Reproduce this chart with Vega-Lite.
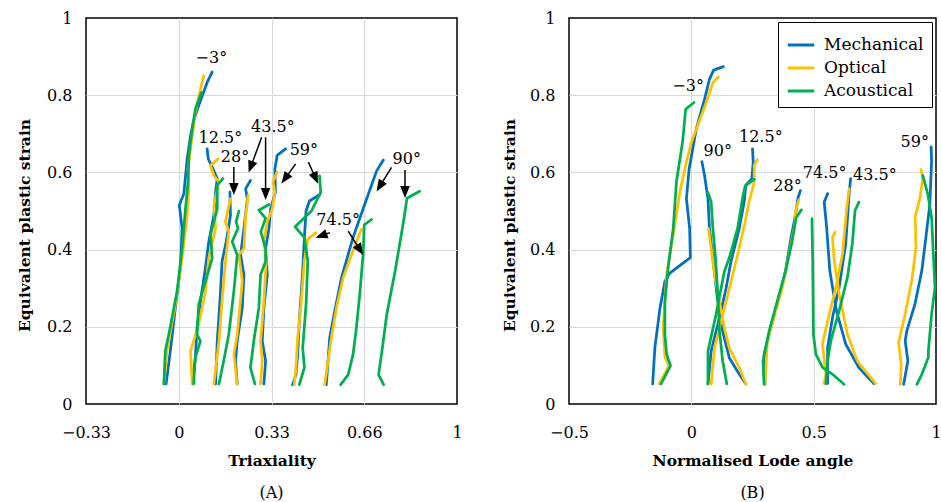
{
"$schema": "https://vega.github.io/schema/vega-lite/v6.json",
"background": "white",
"padding": {"left": 16, "top": 9, "right": 0, "bottom": 0},
"spacing": 38,
"resolve": {"scale": {"color": "independent"}},
"config": {
  "font": "DejaVu Serif",
  "view": {"stroke": "black", "strokeWidth": 1.5},
  "axis": {"labelFont": "DejaVu Serif", "labelFontSize": 16, "labelColor": "#000", "titleFont": "DejaVu Serif", "titleFontSize": 15.5, "titleFontWeight": "bold", "titleColor": "#000", "ticks": false, "domain": false, "gridColor": "#d9d9d9", "gridWidth": 1},
  "title": {"font": "DejaVu Serif", "fontSize": 16, "fontWeight": "normal", "color": "#000"},
  "text": {"font": "DejaVu Serif", "fontSize": 16, "color": "#000"}
},
"datasets": {
  "A": [
    {"series":"g1","method":"Mechanical","x":-0.045,"y":0.052},{"series":"g1","method":"Mechanical","x":-0.030,"y":0.137},{"series":"g1","method":"Mechanical","x":-0.012,"y":0.249},{"series":"g1","method":"Mechanical","x":0.006,"y":0.352},{"series":"g1","method":"Mechanical","x":0.012,"y":0.455},{"series":"g1","method":"Mechanical","x":0.002,"y":0.515},{"series":"g1","method":"Mechanical","x":0.018,"y":0.545},{"series":"g1","method":"Mechanical","x":0.030,"y":0.635},{"series":"g1","method":"Mechanical","x":0.042,"y":0.695},{"series":"g1","method":"Mechanical","x":0.053,"y":0.734},{"series":"g1","method":"Mechanical","x":0.071,"y":0.773},{"series":"g1","method":"Mechanical","x":0.101,"y":0.833},{"series":"g1","method":"Mechanical","x":0.119,"y":0.860},
    {"series":"g2","method":"Mechanical","x":0.048,"y":0.052},{"series":"g2","method":"Mechanical","x":0.059,"y":0.120},{"series":"g2","method":"Mechanical","x":0.065,"y":0.197},{"series":"g2","method":"Mechanical","x":0.077,"y":0.266},{"series":"g2","method":"Mechanical","x":0.093,"y":0.343},{"series":"g2","method":"Mechanical","x":0.107,"y":0.421},{"series":"g2","method":"Mechanical","x":0.125,"y":0.489},{"series":"g2","method":"Mechanical","x":0.131,"y":0.549},{"series":"g2","method":"Mechanical","x":0.137,"y":0.584},{"series":"g2","method":"Mechanical","x":0.119,"y":0.614},{"series":"g2","method":"Mechanical","x":0.105,"y":0.635},{"series":"g2","method":"Mechanical","x":0.101,"y":0.661},
    {"series":"g3","method":"Mechanical","x":0.131,"y":0.052},{"series":"g3","method":"Mechanical","x":0.137,"y":0.163},{"series":"g3","method":"Mechanical","x":0.148,"y":0.283},{"series":"g3","method":"Mechanical","x":0.154,"y":0.369},{"series":"g3","method":"Mechanical","x":0.169,"y":0.421},{"series":"g3","method":"Mechanical","x":0.184,"y":0.489},{"series":"g3","method":"Mechanical","x":0.182,"y":0.549},
    {"series":"g4","method":"Mechanical","x":0.208,"y":0.052},{"series":"g4","method":"Mechanical","x":0.202,"y":0.112},{"series":"g4","method":"Mechanical","x":0.208,"y":0.163},{"series":"g4","method":"Mechanical","x":0.226,"y":0.249},{"series":"g4","method":"Mechanical","x":0.232,"y":0.335},{"series":"g4","method":"Mechanical","x":0.220,"y":0.386},{"series":"g4","method":"Mechanical","x":0.232,"y":0.455},{"series":"g4","method":"Mechanical","x":0.244,"y":0.532},{"series":"g4","method":"Mechanical","x":0.238,"y":0.558},{"series":"g4","method":"Mechanical","x":0.255,"y":0.579},
    {"series":"g5","method":"Mechanical","x":0.303,"y":0.052},{"series":"g5","method":"Mechanical","x":0.309,"y":0.112},{"series":"g5","method":"Mechanical","x":0.297,"y":0.163},{"series":"g5","method":"Mechanical","x":0.303,"y":0.249},{"series":"g5","method":"Mechanical","x":0.315,"y":0.335},{"series":"g5","method":"Mechanical","x":0.309,"y":0.403},{"series":"g5","method":"Mechanical","x":0.321,"y":0.455},{"series":"g5","method":"Mechanical","x":0.327,"y":0.506},{"series":"g5","method":"Mechanical","x":0.344,"y":0.549},{"series":"g5","method":"Mechanical","x":0.342,"y":0.609},{"series":"g5","method":"Mechanical","x":0.350,"y":0.644},{"series":"g5","method":"Mechanical","x":0.380,"y":0.661},
    {"series":"g6","method":"Mechanical","x":0.405,"y":0.050},{"series":"g6","method":"Mechanical","x":0.417,"y":0.076},{"series":"g6","method":"Mechanical","x":0.423,"y":0.128},{"series":"g6","method":"Mechanical","x":0.429,"y":0.215},{"series":"g6","method":"Mechanical","x":0.441,"y":0.345},{"series":"g6","method":"Mechanical","x":0.447,"y":0.431},{"series":"g6","method":"Mechanical","x":0.453,"y":0.500},{"series":"g6","method":"Mechanical","x":0.465,"y":0.526},{"series":"g6","method":"Mechanical","x":0.501,"y":0.542},
    {"series":"g7","method":"Mechanical","x":0.525,"y":0.050},{"series":"g7","method":"Mechanical","x":0.537,"y":0.171},{"series":"g7","method":"Mechanical","x":0.555,"y":0.241},{"series":"g7","method":"Mechanical","x":0.579,"y":0.327},{"series":"g7","method":"Mechanical","x":0.620,"y":0.431},{"series":"g7","method":"Mechanical","x":0.662,"y":0.518},{"series":"g7","method":"Mechanical","x":0.704,"y":0.604},{"series":"g7","method":"Mechanical","x":0.728,"y":0.632},
    {"series":"g1","method":"Optical","x":-0.053,"y":0.052},{"series":"g1","method":"Optical","x":-0.042,"y":0.137},{"series":"g1","method":"Optical","x":-0.012,"y":0.258},{"series":"g1","method":"Optical","x":0.012,"y":0.378},{"series":"g1","method":"Optical","x":0.030,"y":0.489},{"series":"g1","method":"Optical","x":0.036,"y":0.558},{"series":"g1","method":"Optical","x":0.033,"y":0.609},{"series":"g1","method":"Optical","x":0.045,"y":0.678},{"series":"g1","method":"Optical","x":0.059,"y":0.755},{"series":"g1","method":"Optical","x":0.077,"y":0.815},{"series":"g1","method":"Optical","x":0.089,"y":0.850},
    {"series":"g2","method":"Optical","x":0.048,"y":0.052},{"series":"g2","method":"Optical","x":0.042,"y":0.137},{"series":"g2","method":"Optical","x":0.071,"y":0.206},{"series":"g2","method":"Optical","x":0.095,"y":0.292},{"series":"g2","method":"Optical","x":0.107,"y":0.378},{"series":"g2","method":"Optical","x":0.131,"y":0.455},{"series":"g2","method":"Optical","x":0.125,"y":0.515},{"series":"g2","method":"Optical","x":0.143,"y":0.575},{"series":"g2","method":"Optical","x":0.125,"y":0.592},{"series":"g2","method":"Optical","x":0.113,"y":0.618},{"series":"g2","method":"Optical","x":0.140,"y":0.635},
    {"series":"g3","method":"Optical","x":0.125,"y":0.052},{"series":"g3","method":"Optical","x":0.143,"y":0.163},{"series":"g3","method":"Optical","x":0.154,"y":0.266},{"series":"g3","method":"Optical","x":0.166,"y":0.369},{"series":"g3","method":"Optical","x":0.178,"y":0.446},{"series":"g3","method":"Optical","x":0.166,"y":0.472},{"series":"g3","method":"Optical","x":0.184,"y":0.532},
    {"series":"g4","method":"Optical","x":0.208,"y":0.052},{"series":"g4","method":"Optical","x":0.196,"y":0.129},{"series":"g4","method":"Optical","x":0.208,"y":0.180},{"series":"g4","method":"Optical","x":0.226,"y":0.318},{"series":"g4","method":"Optical","x":0.214,"y":0.386},{"series":"g4","method":"Optical","x":0.232,"y":0.403},{"series":"g4","method":"Optical","x":0.238,"y":0.489},{"series":"g4","method":"Optical","x":0.247,"y":0.541},
    {"series":"g5","method":"Optical","x":0.291,"y":0.052},{"series":"g5","method":"Optical","x":0.297,"y":0.112},{"series":"g5","method":"Optical","x":0.291,"y":0.163},{"series":"g5","method":"Optical","x":0.303,"y":0.266},{"series":"g5","method":"Optical","x":0.311,"y":0.369},{"series":"g5","method":"Optical","x":0.303,"y":0.421},{"series":"g5","method":"Optical","x":0.315,"y":0.472},{"series":"g5","method":"Optical","x":0.333,"y":0.506},{"series":"g5","method":"Optical","x":0.342,"y":0.549},{"series":"g5","method":"Optical","x":0.335,"y":0.575},{"series":"g5","method":"Optical","x":0.350,"y":0.601},
    {"series":"g6","method":"Optical","x":0.411,"y":0.050},{"series":"g6","method":"Optical","x":0.417,"y":0.094},{"series":"g6","method":"Optical","x":0.423,"y":0.171},{"series":"g6","method":"Optical","x":0.435,"y":0.258},{"series":"g6","method":"Optical","x":0.447,"y":0.371},{"series":"g6","method":"Optical","x":0.459,"y":0.427},{"series":"g6","method":"Optical","x":0.489,"y":0.444},
    {"series":"g7","method":"Optical","x":0.519,"y":0.050},{"series":"g7","method":"Optical","x":0.543,"y":0.171},{"series":"g7","method":"Optical","x":0.561,"y":0.249},{"series":"g7","method":"Optical","x":0.585,"y":0.327},{"series":"g7","method":"Optical","x":0.620,"y":0.397},{"series":"g7","method":"Optical","x":0.650,"y":0.453},
    {"series":"g1","method":"Acoustical","x":-0.053,"y":0.052},{"series":"g1","method":"Acoustical","x":-0.048,"y":0.137},{"series":"g1","method":"Acoustical","x":-0.033,"y":0.189},{"series":"g1","method":"Acoustical","x":-0.006,"y":0.292},{"series":"g1","method":"Acoustical","x":0.012,"y":0.403},{"series":"g1","method":"Acoustical","x":0.024,"y":0.506},{"series":"g1","method":"Acoustical","x":0.033,"y":0.575},{"series":"g1","method":"Acoustical","x":0.036,"y":0.644},{"series":"g1","method":"Acoustical","x":0.048,"y":0.712},{"series":"g1","method":"Acoustical","x":0.059,"y":0.764},{"series":"g1","method":"Acoustical","x":0.081,"y":0.807},
    {"series":"g2","method":"Acoustical","x":0.053,"y":0.052},{"series":"g2","method":"Acoustical","x":0.059,"y":0.120},{"series":"g2","method":"Acoustical","x":0.077,"y":0.163},{"series":"g2","method":"Acoustical","x":0.065,"y":0.180},{"series":"g2","method":"Acoustical","x":0.071,"y":0.258},{"series":"g2","method":"Acoustical","x":0.095,"y":0.318},{"series":"g2","method":"Acoustical","x":0.119,"y":0.378},{"series":"g2","method":"Acoustical","x":0.113,"y":0.438},{"series":"g2","method":"Acoustical","x":0.137,"y":0.506},{"series":"g2","method":"Acoustical","x":0.137,"y":0.567},{"series":"g2","method":"Acoustical","x":0.157,"y":0.584},
    {"series":"g3","method":"Acoustical","x":0.143,"y":0.052},{"series":"g3","method":"Acoustical","x":0.160,"y":0.112},{"series":"g3","method":"Acoustical","x":0.178,"y":0.180},{"series":"g3","method":"Acoustical","x":0.196,"y":0.292},{"series":"g3","method":"Acoustical","x":0.208,"y":0.386},{"series":"g3","method":"Acoustical","x":0.190,"y":0.421},{"series":"g3","method":"Acoustical","x":0.211,"y":0.455},{"series":"g3","method":"Acoustical","x":0.204,"y":0.472},{"series":"g3","method":"Acoustical","x":0.214,"y":0.500},
    {"series":"g5","method":"Acoustical","x":0.271,"y":0.052},{"series":"g5","method":"Acoustical","x":0.255,"y":0.094},{"series":"g5","method":"Acoustical","x":0.267,"y":0.163},{"series":"g5","method":"Acoustical","x":0.285,"y":0.249},{"series":"g5","method":"Acoustical","x":0.291,"y":0.335},{"series":"g5","method":"Acoustical","x":0.309,"y":0.369},{"series":"g5","method":"Acoustical","x":0.309,"y":0.403},{"series":"g5","method":"Acoustical","x":0.292,"y":0.446},{"series":"g5","method":"Acoustical","x":0.309,"y":0.481},{"series":"g5","method":"Acoustical","x":0.285,"y":0.502},{"series":"g5","method":"Acoustical","x":0.321,"y":0.517},
    {"series":"g6","method":"Acoustical","x":0.429,"y":0.050},{"series":"g6","method":"Acoustical","x":0.447,"y":0.094},{"series":"g6","method":"Acoustical","x":0.441,"y":0.145},{"series":"g6","method":"Acoustical","x":0.453,"y":0.258},{"series":"g6","method":"Acoustical","x":0.459,"y":0.371},{"series":"g6","method":"Acoustical","x":0.447,"y":0.431},{"series":"g6","method":"Acoustical","x":0.414,"y":0.459},{"series":"g6","method":"Acoustical","x":0.472,"y":0.500},{"series":"g6","method":"Acoustical","x":0.505,"y":0.548},{"series":"g6","method":"Acoustical","x":0.501,"y":0.591},
    {"series":"g7","method":"Acoustical","x":0.576,"y":0.050},{"series":"g7","method":"Acoustical","x":0.603,"y":0.076},{"series":"g7","method":"Acoustical","x":0.620,"y":0.128},{"series":"g7","method":"Acoustical","x":0.632,"y":0.197},{"series":"g7","method":"Acoustical","x":0.644,"y":0.284},{"series":"g7","method":"Acoustical","x":0.656,"y":0.388},{"series":"g7","method":"Acoustical","x":0.660,"y":0.464},{"series":"g7","method":"Acoustical","x":0.686,"y":0.478},
    {"series":"g8","method":"Acoustical","x":0.729,"y":0.050},{"series":"g8","method":"Acoustical","x":0.711,"y":0.076},{"series":"g8","method":"Acoustical","x":0.723,"y":0.137},{"series":"g8","method":"Acoustical","x":0.740,"y":0.232},{"series":"g8","method":"Acoustical","x":0.770,"y":0.345},{"series":"g8","method":"Acoustical","x":0.800,"y":0.474},{"series":"g8","method":"Acoustical","x":0.812,"y":0.533},{"series":"g8","method":"Acoustical","x":0.857,"y":0.551}
  ],
  "B": [
    {"series":"r1","method":"Mechanical","x":-0.158,"y":0.052},{"series":"r1","method":"Mechanical","x":-0.149,"y":0.146},{"series":"r1","method":"Mechanical","x":-0.128,"y":0.249},{"series":"r1","method":"Mechanical","x":-0.108,"y":0.318},{"series":"r1","method":"Mechanical","x":-0.088,"y":0.339},{"series":"r1","method":"Mechanical","x":-0.004,"y":0.379},{"series":"r1","method":"Mechanical","x":-0.007,"y":0.455},{"series":"r1","method":"Mechanical","x":-0.020,"y":0.532},{"series":"r1","method":"Mechanical","x":-0.009,"y":0.609},{"series":"r1","method":"Mechanical","x":0.020,"y":0.712},{"series":"r1","method":"Mechanical","x":0.054,"y":0.790},{"series":"r1","method":"Mechanical","x":0.074,"y":0.841},{"series":"r1","method":"Mechanical","x":0.091,"y":0.865},{"series":"r1","method":"Mechanical","x":0.131,"y":0.874},
    {"series":"r2","method":"Mechanical","x":0.043,"y":0.628},{"series":"r2","method":"Mechanical","x":0.054,"y":0.592},{"series":"r2","method":"Mechanical","x":0.068,"y":0.532},{"series":"r2","method":"Mechanical","x":0.074,"y":0.455},{"series":"r2","method":"Mechanical","x":0.088,"y":0.378},{"series":"r2","method":"Mechanical","x":0.108,"y":0.266},{"series":"r2","method":"Mechanical","x":0.128,"y":0.189},{"series":"r2","method":"Mechanical","x":0.155,"y":0.120},{"series":"r2","method":"Mechanical","x":0.196,"y":0.077},{"series":"r2","method":"Mechanical","x":0.223,"y":0.052},
    {"series":"r3","method":"Mechanical","x":0.068,"y":0.052},{"series":"r3","method":"Mechanical","x":0.081,"y":0.137},{"series":"r3","method":"Mechanical","x":0.115,"y":0.223},{"series":"r3","method":"Mechanical","x":0.142,"y":0.300},{"series":"r3","method":"Mechanical","x":0.162,"y":0.369},{"series":"r3","method":"Mechanical","x":0.196,"y":0.455},{"series":"r3","method":"Mechanical","x":0.216,"y":0.524},{"series":"r3","method":"Mechanical","x":0.223,"y":0.567},{"series":"r3","method":"Mechanical","x":0.247,"y":0.584},{"series":"r3","method":"Mechanical","x":0.253,"y":0.627},{"series":"r3","method":"Mechanical","x":0.250,"y":0.661},
    {"series":"r4","method":"Mechanical","x":0.301,"y":0.051},{"series":"r4","method":"Mechanical","x":0.297,"y":0.128},{"series":"r4","method":"Mechanical","x":0.324,"y":0.197},{"series":"r4","method":"Mechanical","x":0.358,"y":0.275},{"series":"r4","method":"Mechanical","x":0.385,"y":0.344},{"series":"r4","method":"Mechanical","x":0.405,"y":0.422},{"series":"r4","method":"Mechanical","x":0.426,"y":0.491},{"series":"r4","method":"Mechanical","x":0.436,"y":0.534},{"series":"r4","method":"Mechanical","x":0.446,"y":0.553},
    {"series":"r5","method":"Mechanical","x":0.557,"y":0.545},{"series":"r5","method":"Mechanical","x":0.543,"y":0.523},{"series":"r5","method":"Mechanical","x":0.553,"y":0.458},{"series":"r5","method":"Mechanical","x":0.566,"y":0.345},{"series":"r5","method":"Mechanical","x":0.593,"y":0.242},{"series":"r5","method":"Mechanical","x":0.631,"y":0.155},{"series":"r5","method":"Mechanical","x":0.685,"y":0.094},{"series":"r5","method":"Mechanical","x":0.746,"y":0.053},
    {"series":"r6","method":"Mechanical","x":0.651,"y":0.584},{"series":"r6","method":"Mechanical","x":0.645,"y":0.545},{"series":"r6","method":"Mechanical","x":0.631,"y":0.415},{"series":"r6","method":"Mechanical","x":0.604,"y":0.302},{"series":"r6","method":"Mechanical","x":0.577,"y":0.224},{"series":"r6","method":"Mechanical","x":0.557,"y":0.146},{"series":"r6","method":"Mechanical","x":0.557,"y":0.053},
    {"series":"r7","method":"Mechanical","x":0.980,"y":0.666},{"series":"r7","method":"Mechanical","x":0.982,"y":0.631},{"series":"r7","method":"Mechanical","x":0.975,"y":0.518},{"series":"r7","method":"Mechanical","x":0.962,"y":0.449},{"series":"r7","method":"Mechanical","x":0.942,"y":0.345},{"series":"r7","method":"Mechanical","x":0.914,"y":0.259},{"series":"r7","method":"Mechanical","x":0.881,"y":0.190},{"series":"r7","method":"Mechanical","x":0.874,"y":0.164},{"series":"r7","method":"Mechanical","x":0.885,"y":0.112},{"series":"r7","method":"Mechanical","x":0.868,"y":0.051},
    {"series":"r1","method":"Optical","x":-0.131,"y":0.052},{"series":"r1","method":"Optical","x":-0.091,"y":0.101},{"series":"r1","method":"Optical","x":-0.108,"y":0.120},{"series":"r1","method":"Optical","x":-0.115,"y":0.197},{"series":"r1","method":"Optical","x":-0.101,"y":0.335},{"series":"r1","method":"Optical","x":-0.074,"y":0.438},{"series":"r1","method":"Optical","x":-0.047,"y":0.549},{"series":"r1","method":"Optical","x":-0.020,"y":0.627},{"series":"r1","method":"Optical","x":0.000,"y":0.678},{"series":"r1","method":"Optical","x":0.020,"y":0.712},{"series":"r1","method":"Optical","x":0.061,"y":0.781},{"series":"r1","method":"Optical","x":0.088,"y":0.833},{"series":"r1","method":"Optical","x":0.111,"y":0.847},
    {"series":"r2","method":"Optical","x":0.070,"y":0.455},{"series":"r2","method":"Optical","x":0.081,"y":0.403},{"series":"r2","method":"Optical","x":0.095,"y":0.335},{"series":"r2","method":"Optical","x":0.115,"y":0.266},{"series":"r2","method":"Optical","x":0.135,"y":0.197},{"series":"r2","method":"Optical","x":0.155,"y":0.146},{"series":"r2","method":"Optical","x":0.196,"y":0.094},{"series":"r2","method":"Optical","x":0.223,"y":0.052},
    {"series":"r3","method":"Optical","x":0.081,"y":0.052},{"series":"r3","method":"Optical","x":0.095,"y":0.146},{"series":"r3","method":"Optical","x":0.122,"y":0.215},{"series":"r3","method":"Optical","x":0.149,"y":0.283},{"series":"r3","method":"Optical","x":0.189,"y":0.386},{"series":"r3","method":"Optical","x":0.220,"y":0.472},{"series":"r3","method":"Optical","x":0.236,"y":0.524},{"series":"r3","method":"Optical","x":0.257,"y":0.575},{"series":"r3","method":"Optical","x":0.257,"y":0.618},{"series":"r3","method":"Optical","x":0.270,"y":0.633},
    {"series":"r4","method":"Optical","x":0.301,"y":0.051},{"series":"r4","method":"Optical","x":0.311,"y":0.163},{"series":"r4","method":"Optical","x":0.345,"y":0.241},{"series":"r4","method":"Optical","x":0.372,"y":0.301},{"series":"r4","method":"Optical","x":0.399,"y":0.387},{"series":"r4","method":"Optical","x":0.423,"y":0.465},{"series":"r4","method":"Optical","x":0.426,"y":0.499},{"series":"r4","method":"Optical","x":0.439,"y":0.529},
    {"series":"r5","method":"Optical","x":0.588,"y":0.445},{"series":"r5","method":"Optical","x":0.577,"y":0.432},{"series":"r5","method":"Optical","x":0.584,"y":0.371},{"series":"r5","method":"Optical","x":0.604,"y":0.285},{"series":"r5","method":"Optical","x":0.638,"y":0.181},{"series":"r5","method":"Optical","x":0.678,"y":0.112},{"series":"r5","method":"Optical","x":0.753,"y":0.053},
    {"series":"r6","method":"Optical","x":0.645,"y":0.558},{"series":"r6","method":"Optical","x":0.634,"y":0.501},{"series":"r6","method":"Optical","x":0.618,"y":0.389},{"series":"r6","method":"Optical","x":0.591,"y":0.302},{"series":"r6","method":"Optical","x":0.557,"y":0.215},{"series":"r6","method":"Optical","x":0.536,"y":0.155},{"series":"r6","method":"Optical","x":0.550,"y":0.077},{"series":"r6","method":"Optical","x":0.543,"y":0.053},
    {"series":"r7","method":"Optical","x":0.939,"y":0.607},{"series":"r7","method":"Optical","x":0.946,"y":0.584},{"series":"r7","method":"Optical","x":0.935,"y":0.536},{"series":"r7","method":"Optical","x":0.915,"y":0.484},{"series":"r7","method":"Optical","x":0.918,"y":0.406},{"series":"r7","method":"Optical","x":0.901,"y":0.320},{"series":"r7","method":"Optical","x":0.874,"y":0.233},{"series":"r7","method":"Optical","x":0.847,"y":0.159},{"series":"r7","method":"Optical","x":0.858,"y":0.103},{"series":"r7","method":"Optical","x":0.854,"y":0.051},
    {"series":"r1","method":"Acoustical","x":-0.124,"y":0.052},{"series":"r1","method":"Acoustical","x":-0.085,"y":0.099},{"series":"r1","method":"Acoustical","x":-0.101,"y":0.129},{"series":"r1","method":"Acoustical","x":-0.108,"y":0.180},{"series":"r1","method":"Acoustical","x":-0.108,"y":0.266},{"series":"r1","method":"Acoustical","x":-0.095,"y":0.352},{"series":"r1","method":"Acoustical","x":-0.074,"y":0.455},{"series":"r1","method":"Acoustical","x":-0.061,"y":0.575},{"series":"r1","method":"Acoustical","x":-0.036,"y":0.678},{"series":"r1","method":"Acoustical","x":-0.023,"y":0.764},{"series":"r1","method":"Acoustical","x":0.011,"y":0.781},
    {"series":"r2","method":"Acoustical","x":0.068,"y":0.548},{"series":"r2","method":"Acoustical","x":0.081,"y":0.524},{"series":"r2","method":"Acoustical","x":0.088,"y":0.455},{"series":"r2","method":"Acoustical","x":0.099,"y":0.378},{"series":"r2","method":"Acoustical","x":0.108,"y":0.283},{"series":"r2","method":"Acoustical","x":0.115,"y":0.189},{"series":"r2","method":"Acoustical","x":0.128,"y":0.112},{"series":"r2","method":"Acoustical","x":0.145,"y":0.052},
    {"series":"r3","method":"Acoustical","x":0.068,"y":0.052},{"series":"r3","method":"Acoustical","x":0.068,"y":0.137},{"series":"r3","method":"Acoustical","x":0.101,"y":0.232},{"series":"r3","method":"Acoustical","x":0.135,"y":0.343},{"series":"r3","method":"Acoustical","x":0.155,"y":0.378},{"series":"r3","method":"Acoustical","x":0.189,"y":0.455},{"series":"r3","method":"Acoustical","x":0.209,"y":0.532},{"series":"r3","method":"Acoustical","x":0.220,"y":0.565},{"series":"r3","method":"Acoustical","x":0.257,"y":0.582},
    {"series":"r4","method":"Acoustical","x":0.297,"y":0.051},{"series":"r4","method":"Acoustical","x":0.293,"y":0.111},{"series":"r4","method":"Acoustical","x":0.318,"y":0.189},{"series":"r4","method":"Acoustical","x":0.351,"y":0.266},{"series":"r4","method":"Acoustical","x":0.385,"y":0.344},{"series":"r4","method":"Acoustical","x":0.412,"y":0.422},{"series":"r4","method":"Acoustical","x":0.428,"y":0.482},{"series":"r4","method":"Acoustical","x":0.450,"y":0.503},
    {"series":"r5","method":"Acoustical","x":0.493,"y":0.480},{"series":"r5","method":"Acoustical","x":0.496,"y":0.371},{"series":"r5","method":"Acoustical","x":0.499,"y":0.181},{"series":"r5","method":"Acoustical","x":0.509,"y":0.129},{"series":"r5","method":"Acoustical","x":0.536,"y":0.095},{"series":"r5","method":"Acoustical","x":0.577,"y":0.077},{"series":"r5","method":"Acoustical","x":0.624,"y":0.051},
    {"series":"r6","method":"Acoustical","x":0.685,"y":0.523},{"series":"r6","method":"Acoustical","x":0.669,"y":0.501},{"series":"r6","method":"Acoustical","x":0.658,"y":0.415},{"series":"r6","method":"Acoustical","x":0.638,"y":0.328},{"series":"r6","method":"Acoustical","x":0.604,"y":0.241},{"series":"r6","method":"Acoustical","x":0.570,"y":0.163},{"series":"r6","method":"Acoustical","x":0.557,"y":0.111},{"series":"r6","method":"Acoustical","x":0.550,"y":0.053},
    {"series":"r7","method":"Acoustical","x":0.946,"y":0.592},{"series":"r7","method":"Acoustical","x":0.966,"y":0.545},{"series":"r7","method":"Acoustical","x":0.982,"y":0.484},{"series":"r7","method":"Acoustical","x":0.989,"y":0.389},{"series":"r7","method":"Acoustical","x":0.996,"y":0.302},{"series":"r7","method":"Acoustical","x":0.982,"y":0.233},{"series":"r7","method":"Acoustical","x":0.969,"y":0.138},{"series":"r7","method":"Acoustical","x":0.969,"y":0.121},{"series":"r7","method":"Acoustical","x":0.942,"y":0.077},{"series":"r7","method":"Acoustical","x":0.922,"y":0.051}
  ],
  "labelsA": [
    {"label":"−3°","x":0.116,"y":0.897},{"label":"12.5°","x":0.148,"y":0.688},{"label":"28°","x":0.200,"y":0.639},{"label":"43.5°","x":0.335,"y":0.717},{"label":"59°","x":0.445,"y":0.657},{"label":"74.5°","x":0.567,"y":0.476},{"label":"90°","x":0.811,"y":0.635}
  ],
  "labelsB": [
    {"label":"−3°","x":-0.013,"y":0.823},{"label":"90°","x":0.108,"y":0.655},{"label":"12.5°","x":0.284,"y":0.693},{"label":"28°","x":0.393,"y":0.565},{"label":"74.5°","x":0.545,"y":0.598},{"label":"43.5°","x":0.750,"y":0.594},{"label":"59°","x":0.913,"y":0.678}
  ],
  "arrowsA": [
    {"x":0.196,"y":0.614,"hx":0.196,"hy":0.557},
    {"x":0.295,"y":0.691,"hx":0.256,"hy":0.614},
    {"x":0.309,"y":0.691,"hx":0.309,"hy":0.544},
    {"x":0.416,"y":0.622,"hx":0.378,"hy":0.584},
    {"x":0.461,"y":0.627,"hx":0.487,"hy":0.585},
    {"x":0.538,"y":0.444,"hx":0.507,"hy":0.436},
    {"x":0.603,"y":0.448,"hx":0.645,"hy":0.399},
    {"x":0.757,"y":0.613,"hx":0.715,"hy":0.564},
    {"x":0.805,"y":0.606,"hx":0.805,"hy":0.549}
  ]
},
"hconcat": [
  {
    "width": 371, "height": 386,
    "title": {"text": "(A)", "orient": "bottom", "offset": 16},
    "layer": [
      {
        "data": {"name": "A"},
        "mark": {"type": "line", "strokeWidth": 2.75, "strokeJoin": "round", "strokeCap": "round"},
        "encoding": {
          "x": {"field": "x", "type": "quantitative", "scale": {"domain": [-0.33, 0.99], "nice": false, "zero": false},
                "axis": {"values": [-0.33, 0, 0.33, 0.66, 0.99], "labelExpr": "datum.value > 0.98 ? '1' : (datum.value < 0 ? '−0.33' : format(datum.value, '.2~f'))", "title": "Triaxiality", "labelPadding": 20, "titlePadding": 13, "labelFlush": false, "gridOpacity": {"condition": {"test": "datum.value < -0.3 || datum.value > 0.98", "value": 0}, "value": 1}}},
          "y": {"field": "y", "type": "quantitative", "scale": {"domain": [0, 1], "nice": false},
                "axis": {"values": [0, 0.2, 0.4, 0.6, 0.8, 1], "format": "~g", "title": "Equivalent plastic strain", "labelPadding": 14, "labelFlush": false, "titleX": -62, "titleY": 207, "titleBaseline": "middle", "gridOpacity": {"condition": {"test": "datum.value < 0.01 || datum.value > 0.99", "value": 0}, "value": 1}}},
          "color": {"field": "method", "type": "nominal", "scale": {"domain": ["Mechanical", "Optical", "Acoustical"], "range": ["#0070C0", "#FFC000", "#00B050"]}, "legend": null},
          "detail": {"field": "series"},
          "order": {"value": null}
        }
      },
      {
        "data": {"name": "labelsA"},
        "mark": {"type": "text", "align": "center", "baseline": "middle"},
        "encoding": {"x": {"field": "x", "type": "quantitative"}, "y": {"field": "y", "type": "quantitative"}, "text": {"field": "label"}}
      },
      {
        "data": {"name": "arrowsA"},
        "mark": {"type": "rule", "color": "black", "strokeWidth": 1.5},
        "encoding": {"x": {"field": "x", "type": "quantitative"}, "y": {"field": "y", "type": "quantitative"}, "x2": {"field": "hx"}, "y2": {"field": "hy"}}
      },
      {
        "data": {"name": "arrowsA"},
        "transform": [{"calculate": "atan2((datum.hx - datum.x) * 281.5, (datum.hy - datum.y) * 386) * 180 / PI", "as": "angle"}],
        "mark": {"type": "point", "shape": "M0,-1L-0.8,1L0.8,1Z", "filled": true, "color": "black", "size": 144, "opacity": 1},
        "encoding": {"x": {"field": "hx", "type": "quantitative"}, "y": {"field": "hy", "type": "quantitative"}, "angle": {"field": "angle", "type": "quantitative", "scale": null}}
      }
    ]
  },
  {
    "width": 367, "height": 386,
    "title": {"text": "(B)", "orient": "bottom", "offset": 16},
    "layer": [
      {
        "data": {"name": "B"},
        "mark": {"type": "line", "strokeWidth": 2.75, "strokeJoin": "round", "strokeCap": "round"},
        "encoding": {
          "x": {"field": "x", "type": "quantitative", "scale": {"domain": [-0.5, 1], "nice": false, "zero": false},
                "axis": {"values": [-0.5, 0, 0.5, 1], "labelExpr": "datum.value < 0 ? '−0.5' : format(datum.value, '~g')", "title": "Normalised Lode angle", "labelPadding": 20, "titlePadding": 13, "labelFlush": false, "gridOpacity": {"condition": {"test": "datum.value < -0.45 || datum.value > 0.98", "value": 0}, "value": 1}}},
          "y": {"field": "y", "type": "quantitative", "scale": {"domain": [0, 1], "nice": false},
                "axis": {"values": [0, 0.2, 0.4, 0.6, 0.8, 1], "format": "~g", "title": "Equivalent plastic strain", "labelPadding": 14, "labelFlush": false, "titleX": -60, "titleY": 207, "titleBaseline": "middle", "gridOpacity": {"condition": {"test": "datum.value < 0.01 || datum.value > 0.99", "value": 0}, "value": 1}}},
          "color": {"field": "method", "type": "nominal", "scale": {"domain": ["Mechanical", "Optical", "Acoustical"], "range": ["#0070C0", "#FFC000", "#00B050"]},
                    "legend": {"orient": "top-right", "offset": 4, "title": null, "strokeColor": "black", "fillColor": "white", "padding": 8, "symbolType": "stroke", "symbolStrokeWidth": 3, "symbolSize": 700, "labelFont": "DejaVu Serif", "labelFontSize": 17, "labelColor": "#000", "labelOffset": 8, "rowPadding": 0}},
          "detail": {"field": "series"},
          "order": {"value": null}
        }
      },
      {
        "data": {"name": "labelsB"},
        "mark": {"type": "text", "align": "center", "baseline": "middle"},
        "encoding": {"x": {"field": "x", "type": "quantitative"}, "y": {"field": "y", "type": "quantitative"}, "text": {"field": "label"}}
      }
    ]
  }
]
}
